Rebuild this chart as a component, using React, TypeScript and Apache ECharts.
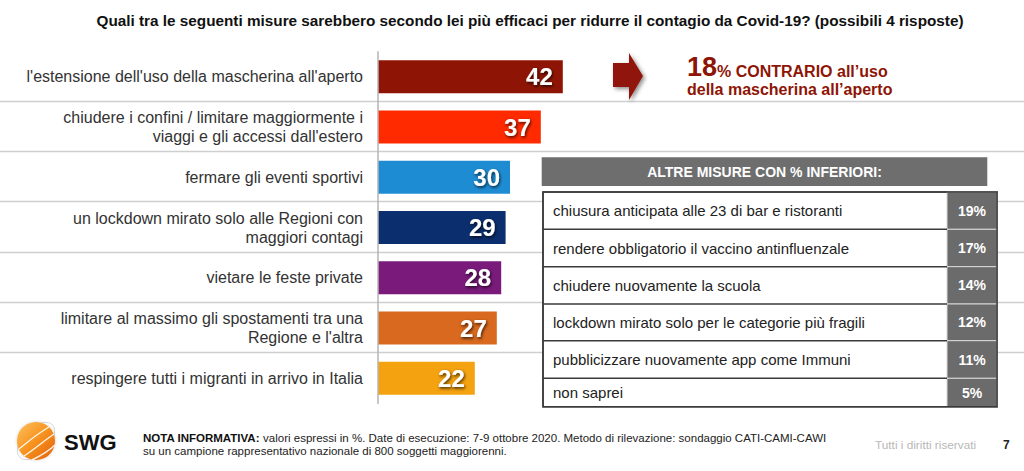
import React, { useEffect, useRef } from "react";
import * as echarts from "echarts";

const titleText =
  "Quali tra le seguenti misure sarebbero secondo lei più efficaci per ridurre il contagio da Covid-19? (possibili 4 risposte)";

const categories = [
  "l'estensione dell'uso della mascherina all'aperto",
  "chiudere i confini / limitare maggiormente i\nviaggi e gli accessi dall'estero",
  "fermare gli eventi sportivi",
  "un lockdown mirato solo alle Regioni con\nmaggiori contagi",
  "vietare le feste private",
  "limitare al massimo gli spostamenti tra una\nRegione e l'altra",
  "respingere tutti i migranti in arrivo in Italia",
];
const values = [42, 37, 30, 29, 28, 27, 22];
const barColors = ["#8E1505", "#FF2A00", "#1E8CD3", "#0B2E6E", "#7A1B7C", "#D8691E", "#F4A20F"];

const otherTitle = "ALTRE MISURE CON % INFERIORI:";
const otherMeasures = [
  "chiusura anticipata alle 23 di bar e ristoranti",
  "rendere obbligatorio il vaccino antinfluenzale",
  "chiudere nuovamente la scuola",
  "lockdown mirato solo per le categorie più fragili",
  "pubblicizzare nuovamente app come Immuni",
  "non saprei",
];
const otherValues = ["19%", "17%", "14%", "12%", "11%", "5%"];

const calloutNumber = "18";
const calloutLine1 = "% CONTRARIO all’uso";
const calloutLine2 = "della mascherina all’aperto";

const footerBold = "NOTA INFORMATIVA:";
const footerLine1 =
  " valori espressi in %. Date di esecuzione: 7-9 ottobre 2020. Metodo di rilevazione: sondaggio CATI-CAMI-CAWI";
const footerLine2 = "su un campione rappresentativo nazionale di 800 soggetti maggiorenni.";
const rightsText = "Tutti i diritti riservati";
const pageNumber = "7";
const brand = "SWG";

const FONT = "Liberation Sans, Arial, sans-serif";

export default function App() {
  const ref = useRef<HTMLDivElement>(null);

  useEffect(() => {
    if (!ref.current) return;
    const chart = echarts.init(ref.current, null, { renderer: "svg" });

    chart.setOption({
      animation: false,
      backgroundColor: "#ffffff",
      textStyle: { fontFamily: FONT },
      grid: { left: 378, top: 51.7, height: 351.7, width: 220, containLabel: false },
      xAxis: { type: "value", min: 0, max: 50, show: false },
      yAxis: {
        type: "category",
        inverse: true,
        data: categories,
        axisLine: { show: true, lineStyle: { color: "#b4b4b4", width: 1.5 } },
        axisTick: { show: false },
        splitLine: { show: false },
        axisLabel: {
          fontSize: 16,
          color: "#333333",
          margin: 15,
          lineHeight: 19,
          align: "right",
          fontFamily: FONT,
        },
        z: 5,
      },
      series: [
        {
          type: "bar",
          barWidth: 33,
          data: values.map((v, i) => ({ value: v, itemStyle: { color: barColors[i] } })),
          label: {
            show: true,
            position: "insideRight",
            distance: 10,
            color: "#ffffff",
            fontSize: 24,
            fontWeight: "bold",
            fontFamily: FONT,
            textShadowColor: "rgba(0,0,0,0.75)",
            textShadowBlur: 3,
            textShadowOffsetX: 1,
            textShadowOffsetY: 1.5,
          },
          z: 3,
        },
      ],
    });

    // Row separators, derived from the category axis positions
    const centers = categories.map((c, i) => chart.convertToPixel({ yAxisIndex: 0 }, i) as number);
    const separators: any[] = [];
    for (let i = 0; i < centers.length - 1; i++) {
      const y = Math.round((centers[i] + centers[i + 1]) / 2) - 0.5;
      separators.push({
        type: "line",
        z: 1,
        shape: { x1: 0, y1: y, x2: 1024, y2: y },
        style: { stroke: "#cfcfcf", lineWidth: 1.5 },
      });
    }

    // Table
    const tLeft = 543;
    const tRight = 997;
    const vLeft = 947;
    const rowEdges = [192, 229.3, 266.7, 304, 340.7, 378.3, 406.7];
    const table: any[] = [];
    table.push({
      type: "rect",
      z: 10,
      shape: { x: 541.7, y: 157.3, width: 445.6, height: 28.7 },
      style: { fill: "#6e6e6e" },
    });
    table.push({
      type: "text",
      z: 11,
      x: 764.5,
      y: 171.8,
      style: {
        text: otherTitle,
        fill: "#ffffff",
        font: `bold 14px ${FONT}`,
        align: "center",
        verticalAlign: "middle",
      },
    });
    table.push({
      type: "rect",
      z: 10,
      shape: { x: tLeft, y: rowEdges[0], width: tRight - tLeft, height: rowEdges[6] - rowEdges[0] },
      style: { fill: "#ffffff", stroke: "#3a3a3a", lineWidth: 1.5 },
    });
    otherMeasures.forEach((m, i) => {
      const y0 = rowEdges[i];
      const y1 = rowEdges[i + 1];
      table.push({
        type: "rect",
        z: 11,
        shape: { x: vLeft, y: y0, width: tRight - vLeft, height: y1 - y0 },
        style: { fill: "#6b6b6b", stroke: "#d8d8d8", lineWidth: 1 },
      });
      if (i > 0) {
        table.push({
          type: "line",
          z: 11,
          shape: { x1: tLeft, y1: y0, x2: vLeft, y2: y0 },
          style: { stroke: "#3a3a3a", lineWidth: 1.5 },
        });
      }
      table.push({
        type: "text",
        z: 12,
        x: 553,
        y: (y0 + y1) / 2,
        style: {
          text: m,
          fill: "#222222",
          font: `15px ${FONT}`,
          verticalAlign: "middle",
        },
      });
      table.push({
        type: "text",
        z: 12,
        x: (vLeft + tRight) / 2,
        y: (y0 + y1) / 2,
        style: {
          text: otherValues[i],
          fill: "#ffffff",
          font: `bold 14px ${FONT}`,
          align: "center",
          verticalAlign: "middle",
        },
      });
    });
    table.push({
      type: "rect",
      z: 13,
      shape: { x: tLeft, y: rowEdges[0], width: tRight - tLeft, height: rowEdges[6] - rowEdges[0] },
      style: { fill: null, stroke: "#3a3a3a", lineWidth: 1.5 },
    });

    const logo: any[] = [
      {
        type: "ellipse",
        z: 20,
        x: 36,
        y: 441,
        rotation: Math.PI / 4,
        shape: { cx: 0, cy: 0, rx: 23, ry: 13 },
        style: { fill: null, stroke: "#d9d9d9", lineWidth: 1 },
      },
      {
        type: "circle",
        z: 21,
        shape: { cx: 36, cy: 441, r: 19 },
        style: {
          fill: {
            type: "linear",
            x: 0,
            y: 0,
            x2: 1,
            y2: 1,
            colorStops: [
              { offset: 0, color: "#FDC15E" },
              { offset: 0.5, color: "#F7921E" },
              { offset: 1, color: "#E0600A" },
            ],
          },
          shadowColor: "rgba(0,0,0,0.2)",
          shadowBlur: 3,
        },
      },
      {
        type: "bezierCurve",
        z: 22,
        shape: { x1: 19, y1: 449, x2: 49, y2: 427, cpx1: 30, cpy1: 440, cpx2: 40, cpy2: 432 },
        style: { stroke: "rgba(255,255,255,0.9)", lineWidth: 1.4, fill: null },
      },
      {
        type: "bezierCurve",
        z: 22,
        shape: { x1: 24, y1: 456, x2: 54, y2: 434, cpx1: 36, cpy1: 448, cpx2: 45, cpy2: 440 },
        style: { stroke: "rgba(255,255,255,0.9)", lineWidth: 1.4, fill: null },
      },
      {
        type: "bezierCurve",
        z: 22,
        shape: { x1: 32, y1: 460, x2: 55, y2: 445, cpx1: 42, cpy1: 455, cpx2: 50, cpy2: 450 },
        style: { stroke: "rgba(255,255,255,0.9)", lineWidth: 1.4, fill: null },
      },
      {
        type: "text",
        z: 22,
        x: 64,
        y: 442,
        style: {
          text: brand,
          fill: "#111111",
          font: `bold 22px ${FONT}`,
          verticalAlign: "middle",
        },
      },
    ];

    chart.setOption({
      graphic: [
        ...separators,
        {
          type: "text",
          z: 20,
          x: 530,
          y: 20,
          style: {
            text: titleText,
            fill: "#111111",
            font: `bold 15.3px ${FONT}`,
            align: "center",
            verticalAlign: "middle",
          },
        },
        {
          type: "polygon",
          z: 20,
          shape: {
            points: [
              [613, 63],
              [629, 63],
              [629, 53],
              [643, 76],
              [629, 100],
              [629, 87],
              [613, 87],
            ],
          },
          style: {
            fill: "#901808",
            shadowColor: "rgba(0,0,0,0.45)",
            shadowBlur: 4,
            shadowOffsetX: 2,
            shadowOffsetY: 2,
          },
        },
        {
          type: "text",
          z: 20,
          x: 687,
          y: 66.6,
          style: {
            text: calloutNumber,
            fill: "#8E1505",
            font: `bold 27px ${FONT}`,
            verticalAlign: "middle",
          },
        },
        {
          type: "text",
          z: 20,
          x: 717,
          y: 71,
          style: {
            text: calloutLine1,
            fill: "#8E1505",
            font: `bold 16px ${FONT}`,
            verticalAlign: "middle",
          },
        },
        {
          type: "text",
          z: 20,
          x: 687,
          y: 89.5,
          style: {
            text: calloutLine2,
            fill: "#8E1505",
            font: `bold 16px ${FONT}`,
            verticalAlign: "middle",
          },
        },
        ...table,
        ...logo,
        {
          type: "text",
          z: 20,
          x: 143,
          y: 444.5,
          style: {
            text: `{b|${footerBold}}{r|${footerLine1}}\n{r|${footerLine2}}`,
            verticalAlign: "middle",
            rich: {
              b: { font: `bold 11.5px ${FONT}`, fill: "#111111", lineHeight: 13 },
              r: { font: `11.5px ${FONT}`, fill: "#222222", lineHeight: 13 },
            },
          },
        },
        {
          type: "text",
          z: 20,
          x: 875,
          y: 445,
          style: {
            text: rightsText,
            fill: "#b8b8b8",
            font: `11.8px ${FONT}`,
            verticalAlign: "middle",
          },
        },
        {
          type: "text",
          z: 20,
          x: 1003,
          y: 445,
          style: {
            text: pageNumber,
            fill: "#222222",
            font: `bold 12px ${FONT}`,
            verticalAlign: "middle",
          },
        },
      ],
    });

    return () => chart.dispose();
  }, []);

  return (
    <div
      ref={ref}
      style={{ position: "fixed", left: 0, top: 0, width: 1024, height: 471, background: "#fff" }}
    />
  );
}
